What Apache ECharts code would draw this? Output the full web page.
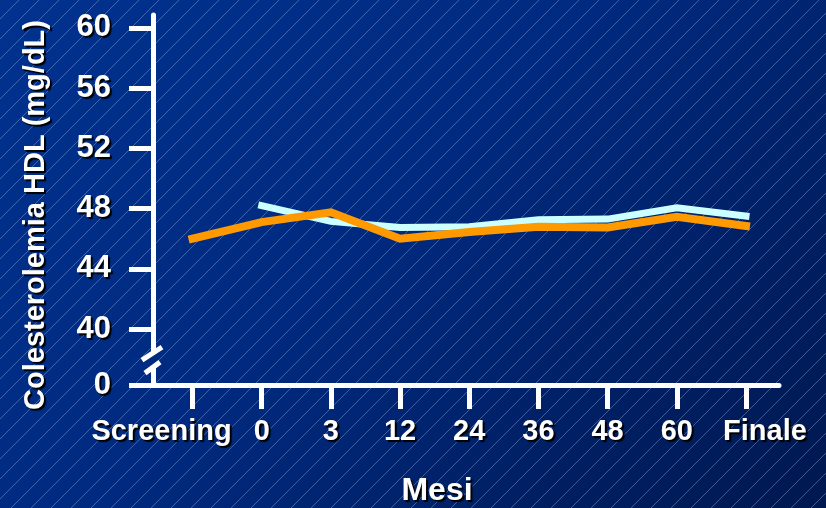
<!DOCTYPE html>
<html>
<head>
<meta charset="utf-8">
<script src="https://cdn.jsdelivr.net/npm/echarts@6/dist/echarts.min.js"></script>
<style>
  html, body { margin: 0; padding: 0; }
  #chart {
    width: 826px; height: 508px;
    background:
      repeating-linear-gradient(135deg,
        rgba(0,0,0,0) 0px, rgba(0,0,0,0) 13px,
        rgba(150,180,235,0.42) 13px, rgba(150,180,235,0.42) 14.14px),
      linear-gradient(135deg, #00328f 0%, #002a80 45%, #001e60 80%, #001850 100%);
  }
</style>
</head>
<body>
<div id="chart"></div>
<script>
// Follow-up visits (months)
const categories = ['Screening', '0', '3', '12', '24', '36', '48', '60', 'Finale'];
// HDL cholesterol, mg/dL
const hdlLight  = [null, 48.2, 47.15, 46.75, 46.8, 47.25, 47.3, 48.05, 47.5];
const hdlOrange = [46.0, 47.1, 47.75, 46.0, 46.45, 46.8, 46.75, 47.45, 46.85];
// Value-axis ticks; the bottom of the broken axis is labelled 0
const yTicks = [40, 44, 48, 52, 56, 60];
const yBreakLabel = '0';

const Y_MIN = 36.28, Y_MAX = 60.86;
const X_MIN = -0.571, X_MAX = 8.477;

const FONT = '"Liberation Sans", Arial, sans-serif';
const shadow = { textShadowColor: '#000', textShadowOffsetX: 2, textShadowOffsetY: 2, textShadowBlur: 1 };
const catStyle = Object.assign({ color: '#fff', fontFamily: FONT, fontWeight: 'bold', fontSize: 29 }, shadow);

const toPairs = arr => arr.map((v, i) => (v == null ? null : [i, v])).filter(Boolean);

const chart = echarts.init(document.getElementById('chart'), null, { renderer: 'canvas' });

const option = {
  backgroundColor: 'transparent',
  animation: false,
  grid: { left: 153, right: 47, top: 15, bottom: 123, containLabel: false },
  xAxis: {
    type: 'value', min: X_MIN, max: X_MAX,
    splitLine: { show: false },
    axisLine: { show: true, onZero: false, lineStyle: { color: '#fff', width: 5 } },
    axisTick: { show: true, length: 24, lineStyle: { color: '#fff', width: 5 },
      customValues: categories.map((c, i) => i) },
    axisLabel: {
      customValues: categories.map((c, i) => i),
      margin: 32,
      color: '#fff', fontFamily: FONT, fontWeight: 'bold', fontSize: 29,
      ...shadow,
      formatter: v => {
        const name = categories[Math.round(v)];
        if (Math.round(v) === 0) return '{l|' + name + '}';
        if (Math.round(v) === categories.length - 1) return '{r|' + name + '}';
        return name;
      },
      rich: {
        l: Object.assign({}, catStyle, { padding: [0, 62, 0, 0] }),
        r: Object.assign({}, catStyle, { padding: [0, 0, 0, 38] })
      }
    }
  },
  yAxis: {
    type: 'value', min: Y_MIN, max: Y_MAX,
    splitLine: { show: false },
    axisLine: { show: true, onZero: false, lineStyle: { color: '#fff', width: 5 } },
    axisTick: { show: true, length: 24, lineStyle: { color: '#fff', width: 5 },
      customValues: [Y_MIN].concat(yTicks) },
    axisLabel: {
      customValues: [Y_MIN].concat(yTicks),
      margin: 42,
      color: '#fff', fontFamily: FONT, fontWeight: 'bold', fontSize: 31,
      padding: [0, 0, 12, 0],
      ...shadow,
      formatter: v => (v < yTicks[0] - 1 ? yBreakLabel : String(v))
    }
  },
  series: [
    {
      type: 'line', data: toPairs(hdlLight), showSymbol: false, symbol: 'none',
      lineStyle: { color: '#ccffff', width: 7, cap: 'square', join: 'miter' }, z: 3
    },
    {
      type: 'line', data: toPairs(hdlOrange), showSymbol: false, symbol: 'none',
      lineStyle: { color: '#ff9900', width: 8, cap: 'square', join: 'miter' }, z: 4
    }
  ]
};
chart.setOption(option);

// Axis titles and the break marks on the value axis
const axisX = chart.convertToPixel({ gridIndex: 0 }, [X_MIN, 38.0])[0];
const yBreak = chart.convertToPixel({ gridIndex: 0 }, [X_MIN, 38.0])[1];
chart.setOption({
  graphic: [
    {
      type: 'text', x: 36, y: 215, rotation: Math.PI / 2, z: 10,
      style: { text: 'Colesterolemia HDL (mg/dL)', fill: '#fff',
        font: 'bold 29px ' + FONT, align: 'center', verticalAlign: 'middle',
        textShadowColor: '#000', textShadowOffsetX: 2, textShadowOffsetY: 2, textShadowBlur: 1 }
    },
    {
      type: 'text', x: 437, y: 491, z: 10,
      style: { text: 'Mesi', fill: '#fff', font: 'bold 32px ' + FONT,
        align: 'center', verticalAlign: 'middle',
        textShadowColor: '#000', textShadowOffsetX: 2, textShadowOffsetY: 2, textShadowBlur: 1 }
    },
    {
      type: 'polygon', z: 10,
      shape: { points: [[axisX - 4, yBreak - 2], [axisX + 4, yBreak - 7], [axisX + 4, yBreak + 6], [axisX - 4, yBreak + 11]] },
      style: { fill: '#002a7c' }
    },
    {
      type: 'line', z: 11,
      shape: { x1: axisX - 11, y1: yBreak + 1, x2: axisX + 9, y2: yBreak - 12 },
      style: { stroke: '#fff', lineWidth: 5 }
    },
    {
      type: 'line', z: 11,
      shape: { x1: axisX - 8, y1: yBreak + 14, x2: axisX + 7, y2: yBreak + 3 },
      style: { stroke: '#fff', lineWidth: 5 }
    }
  ]
});
</script>
</body>
</html>
